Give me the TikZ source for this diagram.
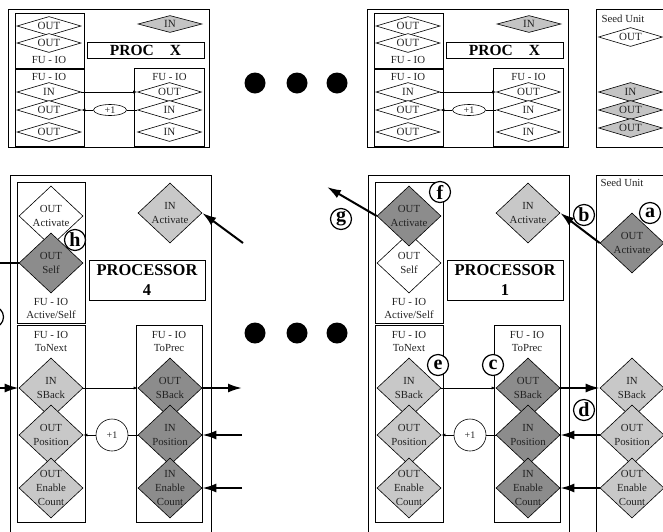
\documentclass[tikz,border=0pt]{standalone}
\usepackage{fontspec}
\setmainfont{Liberation Serif}
\usetikzlibrary{shapes.geometric,arrows.meta}
\definecolor{lg}{HTML}{C8C8C8}
\definecolor{dg}{HTML}{8C8C8C}
\definecolor{tg}{HTML}{C4C4C4}
\definecolor{txt}{HTML}{222222}
\tikzset{
  box/.style={draw, line width=0.7pt},
  sdia/.style={diamond, draw, line width=0.6pt, fill=white, inner sep=0pt, aspect=3.4,
    minimum width=64pt, minimum height=19pt, text=txt, font=\fontsize{11}{12}\selectfont},
  bdia/.style={diamond, draw, line width=0.6pt, inner sep=0pt, minimum width=64pt, minimum height=60pt},
  dtxt/.style={align=center, inner sep=0pt, text=txt, font=\fontsize{10.8}{14}\selectfont},
  lbl/.style={align=center, inner sep=0pt, text=txt, font=\fontsize{10.8}{13}\selectfont},
  ttl/.style={draw, line width=0.7pt, align=center, inner sep=0pt, font=\bfseries\fontsize{16.5}{20}\selectfont},
  letter/.style={circle, draw, line width=1.2pt, fill=white, inner sep=0pt, minimum size=21pt, font=\bfseries\fontsize{20}{20}\selectfont},
  dot/.style={circle, fill=black, inner sep=0pt, minimum size=21pt},
  thk/.style={line width=2pt, -{Latex[length=14pt,width=9pt]}},
  thkline/.style={line width=2pt},
  thn/.style={line width=0.6pt, -{Latex[length=4pt,width=3pt]}},
  thnline/.style={line width=0.6pt}
}
\newcommand\bigdia[5]{%
  \node[bdia, fill=#4] (#1) at (#2,#3) {};
  \node[dtxt] (#1t) at (#1) {#5};}
\newcommand\procx[2]{%
\begin{scope}[xshift=#1pt]
  \draw[box] (8,9) rectangle (209,147);
  \draw[box] (15,13) rectangle (84,68);
  \draw[box] (15,69) rectangle (84,146);
  \draw[box] (134,68) rectangle (204,146);
  \node[draw, line width=0.7pt, minimum width=117pt, minimum height=16pt, inner sep=0pt,
        font=\bfseries\fontsize{15.5}{15}\selectfont] (#2title) at (145.5,50) {PROC\hspace{16pt}X};
  \node[sdia] (#2u1) at (49,26) {OUT};
  \node[sdia] (#2u2) at (49,43) {OUT};
  \node[lbl] (#2ul) at (49,60) {FU - IO};
  \node[lbl] (#2ll) at (49,77) {FU - IO};
  \node[sdia] (#2l1) at (49,92) {IN};
  \node[sdia] (#2l2) at (49,110) {OUT};
  \node[sdia] (#2l3) at (49,132) {OUT};
  \node[lbl] (#2rl) at (169.5,77) {FU - IO};
  \node[sdia] (#2r1) at (169.5,92) {OUT};
  \node[sdia] (#2r2) at (169.5,110) {IN};
  \node[sdia] (#2r3) at (169.5,132) {IN};
  \node[sdia, fill=tg, minimum height=17pt] (#2in) at (170,24) {IN};
  \node[ellipse, draw, line width=0.6pt, fill=white, minimum width=33pt, minimum height=11pt,
        inner sep=0pt, text=txt, font=\fontsize{10}{10}\selectfont] (#2plus) at (110,110) {+1};
\end{scope}
\draw[thn] (#2l1.east) -- (#2r1.west);
\draw[thnline] (#2r2.west) -- (#2plus.east);
\draw[thn] (#2plus.west) -- (#2l2.east);
}
\newcommand\procb[3]{%
\begin{scope}[xshift=#1pt]
  \draw[box] (10,175) rectangle (211,545);
  \draw[box] (17,182) rectangle (85,323);
  \node[lbl] (#2asl) at (51,308) {FU - IO\\Active/Self};
  \bigdia{#2ia}{170}{213}{lg}{IN\\Activate}
  \node[ttl, minimum width=116pt, minimum height=40pt] (#2title) at (147,280) {PROCESSOR\\#3};
  \draw[box] (17,325) rectangle (85,522);
  \node[lbl] (#2tnl) at (51,341) {FU - IO\\ToNext};
  \draw[box] (136,325) rectangle (202,522);
  \node[lbl] (#2tpl) at (169,341) {FU - IO\\ToPrec};
  \bigdia{#2sb}{51}{388}{lg}{IN\\SBack}
  \bigdia{#2op}{51}{435}{lg}{OUT\\Position}
  \bigdia{#2oe}{51}{488}{lg}{OUT\\Enable\\Count}
  \bigdia{#2osb}{170}{388}{dg}{OUT\\SBack}
  \bigdia{#2ip}{170}{435}{dg}{IN\\Position}
  \bigdia{#2ie}{170}{488}{dg}{IN\\Enable\\Count}
  \node[circle, draw, line width=0.6pt, fill=white, minimum size=32pt, inner sep=0pt,
        text=txt, font=\fontsize{10}{10}\selectfont] (#2plus) at (112,435) {+1};
\end{scope}
\draw[thn] (#2sb.east) -- (#2osb.west);
\draw[thnline] (#2ip.west) -- (#2plus.east);
\draw[thn] (#2plus.west) -- (#2op.east);
}
\begin{document}
\begin{tikzpicture}[x=1pt,y=-1pt]
\useasboundingbox (0,0) rectangle (663,531);
\clip (0,0) rectangle (663,531);
\fill[white] (0,0) rectangle (663,531);
% top panels
\procx{0}{ta}
\procx{359}{tb}
% top seed unit
\draw[box] (596,9) rectangle (680,147);
\node[lbl] (tsl) at (623,19) {Seed Unit};
\node[sdia] (tso) at (630.5,37) {OUT};
\node[sdia, fill=tg] (tsi) at (630.5,92) {IN};
\node[sdia, fill=tg] (tso1) at (630.5,110) {OUT};
\node[sdia, fill=tg] (tso2) at (630.5,128) {OUT};
% dots
\node[dot] (d1) at (255,83) {};
\node[dot] (d2) at (297,83) {};
\node[dot] (d3) at (337,83) {};
\node[dot] (d4) at (255,333) {};
\node[dot] (d5) at (297,333) {};
\node[dot] (d6) at (337,333) {};
% processors
\procb{0}{pd}{4}
\bigdia{pdoa}{51}{216}{white}{OUT\\Activate}
\bigdia{pdos}{51}{263}{dg}{OUT\\Self}
\procb{358}{pa}{1}
\bigdia{paos}{409}{263}{white}{OUT\\Self}
\bigdia{paoa}{409}{216}{dg}{OUT\\Activate}
% seed unit lower
\draw[box] (596,175) rectangle (680,545);
\node[lbl] (bsl) at (622,183) {Seed Unit};
\bigdia{sa}{632}{243}{dg}{OUT\\Activate}
\bigdia{ssb}{632}{388}{lg}{IN\\SBack}
\bigdia{sop}{632}{435}{lg}{OUT\\Position}
\bigdia{soe}{632}{488}{lg}{OUT\\Enable\\Count}
% external connectors
\coordinate (pdinsrc) at (243,243);
\draw[thk] (pdinsrc) -- (pdia.east);
\coordinate (pdselfdst) at (-5,263);
\draw[thkline] (pdselfdst) -- (pdos.west);
\coordinate (pdsbsrc) at (-5,388);
\draw[thk] (pdsbsrc) -- (pdsb.west);
\coordinate (pdsbdst) at (242,388);
\draw[thk] (pdosb.east) -- (pdsbdst);
\coordinate (pdipsrc) at (242,435);
\draw[thk] (pdipsrc) -- (pdip.east);
\coordinate (pdiesrc) at (242,488);
\draw[thk] (pdiesrc) -- (pdie.east);
\coordinate (paoadst) at (327,187);
\draw[thk] (paoa.west) -- (paoadst);
\draw[thk] (sa.west) -- (paia.east);
\draw[thk] (paosb.east) -- (ssb.west);
\draw[thk] (sop.west) -- (paip.east);
\draw[thk] (soe.west) -- (paie.east);
% letters
\node[letter] (lh) at (75,240) {h};
\node[letter] (li) at (-7,317) {};
\node[letter] (lf) at (440,192) {f};
\node[letter] (lg) at (341,219) {g};
\node[letter] (lb) at (584,215) {b};
\node[letter] (la) at (650,213) {a};
\node[letter] (le) at (438,365) {e};
\node[letter] (lc) at (493,365) {c};
\node[letter] (ld) at (584,410) {d};
\end{tikzpicture}
\end{document}
